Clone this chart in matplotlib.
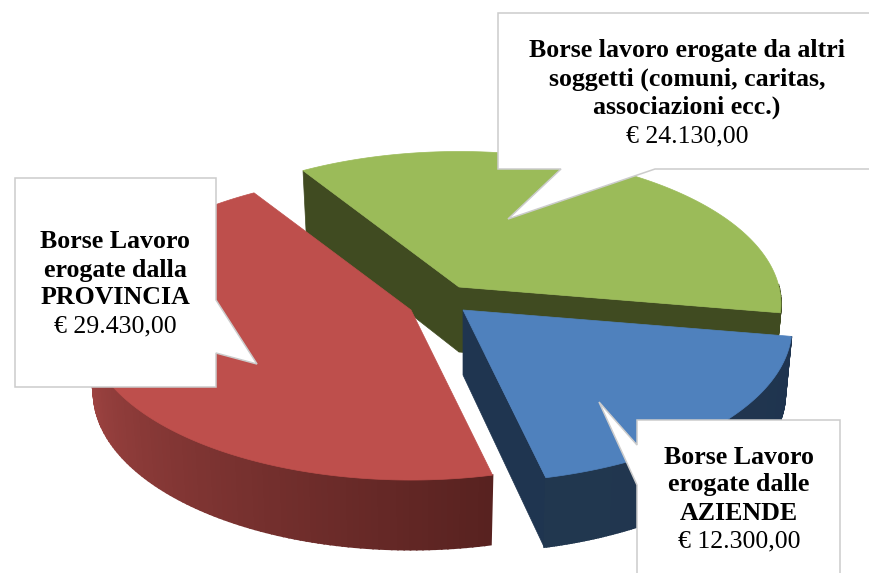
#!/usr/bin/env python3
"""Exploded 3D pie of the Borse Lavoro funding, with callout labels."""

import numpy as np
import matplotlib
matplotlib.use('Agg')
import matplotlib.pyplot as plt
from matplotlib.colors import to_rgb
from matplotlib.patches import Polygon

# ---- data ----
labels = [
    'Borse Lavoro\nerogate dalla\nPROVINCIA',
    'Borse Lavoro\nerogate dalle\nAZIENDE',
    'Borse lavoro erogate da altri\nsoggetti (comuni, caritas,\nassociazioni ecc.)',
]
values = [29430, 12300, 24130]
value_labels = ['€ 29.430,00', '€ 12.300,00', '€ 24.130,00']

# ---- look ----
START_ANGLE = 122.2
TILT = 0.47        # flattening of the disc
PERSP = 0.11       # back of the pie smaller than the front
DEPTH = 65

radius = [322, 327, 320]
apex = [(411, 310), (463, 310), (459, 287)]
top_colors = ['#BE4F4C', '#4F81BD', '#9BBB59']
rim_colors = [('#A84846', '#582220'), ('#21374F', '#1F344F'), ('#404B21', '#404B21')]
cut_colors = ['#5A2422', '#1F3550', '#404B21']
cut_faces = [(), ('start',), ('start', 'end')]

FONT = 'Liberation Serif'
EDGE = '#CCCCCC'


def project(ap, rad, theta, r=1.0, bottom=False):
    """Unit disc point to picture pixels, with a crude perspective."""
    theta = np.asarray(theta)
    y = r * np.sin(theta)
    s = 1.0 / (1.0 + PERSP * y)
    px = rad * r * np.cos(theta) * s
    py = -rad * TILT * y * s
    if bottom:
        return ap[0] + px * 0.98, ap[1] + py * 0.98 + DEPTH * s
    return ap[0] + px, ap[1] + py


def draw_slice(ax, i, a0, a1):
    ap = apex[i]
    rad = radius[i]
    t = np.linspace(a0, a1, 160)
    cx, cy = project(ap, rad, t)
    bx, by = project(ap, rad, t, bottom=True)
    ax0, ay0 = project(ap, rad, 0.0, r=0.0)
    bx0, by0 = project(ap, rad, 0.0, r=0.0, bottom=True)

    # cut faces
    for face in cut_faces[i]:
        k = 0 if face == 'start' else -1
        ax.add_patch(Polygon([(ax0, ay0), (cx[k], cy[k]), (bx[k], by[k]), (bx0, by0)],
                             closed=True, fc=cut_colors[i], ec=cut_colors[i], lw=0.5))

    # outer rim, front part only, shaded along the arc
    front = np.where(np.sin(t) <= 0.02)[0]
    c0 = np.array(to_rgb(rim_colors[i][0]))
    c1 = np.array(to_rgb(rim_colors[i][1]))
    for n, j in enumerate(front[:-1]):
        f = n / max(len(front) - 2, 1)
        col = c0 + (c1 - c0) * f
        ax.add_patch(Polygon([(cx[j], cy[j]), (cx[j + 1], cy[j + 1]),
                              (bx[j + 1], by[j + 1]), (bx[j], by[j])],
                             closed=True, fc=col, ec=col, lw=1.2))

    # top surface
    pts = [(ax0, ay0)] + list(zip(cx, cy))
    ax.add_patch(Polygon(pts, closed=True, fc=top_colors[i], ec=top_colors[i], lw=0.5))


def callout(ax, outline, header, amount, xc, ys, size):
    ax.add_patch(Polygon(outline, closed=True, fc='white', ec=EDGE, lw=1.1,
                         joinstyle='miter', zorder=5))
    for line, y in zip(header.split('\n'), ys):
        ax.text(xc, y, line, ha='center', va='center', family=FONT, weight='bold',
                fontsize=size, color='black', zorder=6)
    ax.text(xc, ys[-1] + (ys[1] - ys[0]), amount, ha='center', va='center', family=FONT,
            fontsize=size, color='black', zorder=6)


def main():
    fig = plt.figure(figsize=(8.7, 5.73), dpi=100)
    ax = fig.add_axes([0, 0, 1, 1])
    ax.set_xlim(0, 870)
    ax.set_ylim(573, 0)
    ax.axis('off')

    fractions = np.array(values) / np.sum(values)
    edges = np.deg2rad(START_ANGLE) + np.concatenate([[0], np.cumsum(fractions)]) * 2 * np.pi

    # back slice first, the exploded front ones on top
    for i in [2, 0, 1]:
        draw_slice(ax, i, edges[i], edges[i + 1])

    callout(ax, [(15, 178), (216, 178), (216, 300), (257, 364), (216, 353), (216, 387), (15, 387)],
            labels[0], value_labels[0], 115.5, [242, 270, 298], 18.6)
    callout(ax, [(637, 420), (840, 420), (840, 580), (637, 580), (637, 485), (599, 402), (637, 445)],
            labels[1], value_labels[1], 739, [457, 485, 513], 18.6)
    callout(ax, [(498, 13), (880, 13), (880, 169), (655, 169), (508, 219), (561, 169), (498, 169)],
            labels[2], value_labels[2], 687, [50, 79, 107], 18.6)

    fig.savefig('out.png', dpi=100)


if __name__ == '__main__':
    main()
